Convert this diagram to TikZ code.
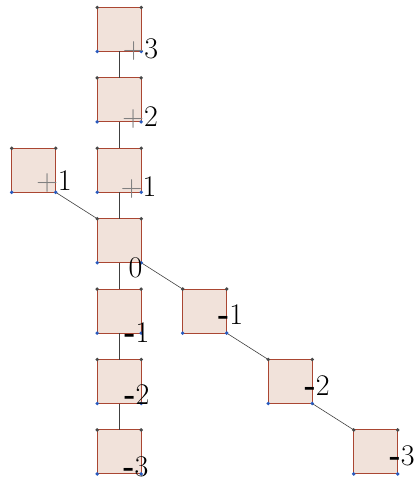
\documentclass[tikz,border=0pt]{standalone}
\usepackage{xcolor}
\usepackage{tikz}
\usetikzlibrary{positioning}

\definecolor{boxfill}{RGB}{241,226,218}
\definecolor{boxline}{RGB}{170,70,50}
\definecolor{topdot}{RGB}{72,72,72}
\definecolor{botdot}{RGB}{40,90,190}

\begin{document}
\begin{tikzpicture}[
    node distance=26.4pt and 41.5pt,
    cell/.style={draw=boxline, fill=boxfill, line width=0.9pt, minimum size=44pt, inner sep=0pt, outer sep=0pt},
    num/.style={anchor=base west, inner sep=0pt, font=\fontsize{30}{34}\selectfont},
    link/.style={black!75, line width=0.6pt},
]
\useasboundingbox (-119.2pt,-238.3pt) rectangle (296.8pt,240.7pt);

% Centre square
\node[cell] (sq0) {};

% Column going up
\node[cell, above=of sq0] (sqP1) {};
\node[cell, above=of sqP1] (sqP2) {};
\node[cell, above=of sqP2] (sqP3) {};

% Side square up left
\node[cell, above left=of sq0] (sqL1) {};

% Column going down
\node[cell, below=of sq0] (sqM1) {};
\node[cell, below=of sqM1] (sqM2) {};
\node[cell, below=of sqM2] (sqM3) {};

% Diagonal going down right
\node[cell, below right=of sq0] (sqD1) {};
\node[cell, below right=of sqD1] (sqD2) {};
\node[cell, below right=of sqD2] (sqD3) {};

% Links
\draw[link] (sqP3.south) -- (sqP2.north);
\draw[link] (sqP2.south) -- (sqP1.north);
\draw[link] (sqP1.south) -- (sq0.north);
\draw[link] (sqL1.south east) -- (sq0.north west);

\draw[link] (sq0.south) -- (sqM1.north);
\draw[link] (sqM1.south) -- (sqM2.north);
\draw[link] (sqM2.south) -- (sqM3.north);

\draw[link] (sq0.south east) -- (sqD1.north west);
\draw[link] (sqD1.south east) -- (sqD2.north west);
\draw[link] (sqD2.south east) -- (sqD3.north west);

% Corner dots
\foreach \s in {sq0,sqP1,sqP2,sqP3,sqL1,sqM1,sqM2,sqM3,sqD1,sqD2,sqD3} {
    \fill[topdot] (\s.north west) circle (1.9pt) (\s.north east) circle (1.9pt);
    \fill[botdot] (\s.south west) circle (1.9pt) (\s.south east) circle (1.9pt);
}

% Labels
\node[num] (labP3) at ([shift={(-18.5pt,-7.3pt)}]sqP3.south east) {\textcolor{black!50}{+}3};
\node[num] (labP2) at ([shift={(-19pt,-5pt)}]sqP2.south east) {\textcolor{black!50}{+}2};
\node[num] (labP1) at ([shift={(-20.5pt,-4.2pt)}]sqP1.south east) {\textcolor{black!50}{+}1};
\node[num] (labL1) at ([shift={(-19.5pt,1.6pt)}]sqL1.south east) {\textcolor{black!50}{+}1};
\node[num] (lab0) at ([shift={(-12.7pt,-15pt)}]sq0.south east) {0};
\node[num] (labM1) at ([shift={(-17pt,-9pt)}]sqM1.south east) {\textbf{-}1};
\node[num] (labM2) at ([shift={(-17pt,-1.3pt)}]sqM2.south east) {\textbf{-}2};
\node[num] (labM3) at ([shift={(-18pt,-2.5pt)}]sqM3.south east) {\textbf{-}3};
\node[num] (labD1) at ([shift={(-8.7pt,8.7pt)}]sqD1.south east) {\textbf{-}1};
\node[num] (labD2) at ([shift={(-7.7pt,7.7pt)}]sqD2.south east) {\textbf{-}2};
\node[num] (labD3) at ([shift={(-8.3pt,8.3pt)}]sqD3.south east) {\textbf{-}3};

\end{tikzpicture}
\end{document}
